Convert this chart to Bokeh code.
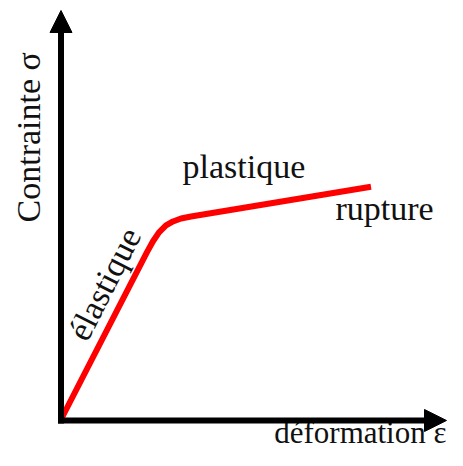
import math
from bokeh.plotting import figure
from bokeh.models import Range1d, Arrow, NormalHead
from bokeh.core.properties import value
from bokeh.embed import file_html
from bokeh.resources import INLINE

# Schematic stress-strain curve (arbitrary units)
strain = [0, 86, 92, 98, 105, 112, 120, 130, 310]
stress = [1, 170, 181, 190, 197, 201, 204, 206, 236]

label_y = "Contrainte σ"
label_x = "déformation ε"
zone_elastic = "élastique"
zone_plastic = "plastique"
zone_rupture = "rupture"

FONT = value("Liberation Serif")
INK = "#111111"

p = figure(width=447, height=450, output_backend="svg", toolbar_location=None,
           x_range=Range1d(-60.5, 386.5), y_range=Range1d(-30.3, 424.1),
           min_border=0, min_border_left=0, min_border_right=0,
           min_border_top=0, min_border_bottom=0)
p.axis.visible = False
p.grid.visible = False
p.outline_line_color = None
p.background_fill_color = "white"
p.border_fill_color = "white"

# axes with arrow heads
p.add_layout(Arrow(end=NormalHead(size=22, fill_color="black", line_color="black", line_width=1),
                   x_start=0, y_start=-3, x_end=0, y_end=414,
                   line_width=6, line_color="black"))
p.add_layout(Arrow(end=NormalHead(size=22, fill_color="black", line_color="black", line_width=1),
                   x_start=-3, y_start=0, x_end=385.5, y_end=0,
                   line_width=6, line_color="black"))

# curve
p.line(strain, stress, line_color="#ff0000", line_width=6, line_join="round")

# labels
slope_angle = math.atan2(stress[1] - stress[0], strain[1] - strain[0])
p.text(x=[-32.5], y=[286], text=[label_y], angle=math.pi / 2, text_align="center",
       text_baseline="alphabetic", text_font=FONT, text_font_size="34px", text_color=INK)
p.text(x=[385.5], y=[-12.1], text=[label_x], text_align="right",
       text_baseline="alphabetic", text_font=FONT, text_font_size="31px", text_color=INK)
p.text(x=[43.5], y=[138], text=[zone_elastic], angle=slope_angle, text_align="center",
       text_baseline="alphabetic", text_font=FONT, text_font_size="34px", text_color=INK)
p.text(x=[121.5], y=[256], text=[zone_plastic], text_align="left",
       text_baseline="alphabetic", text_font=FONT, text_font_size="34px", text_color=INK)
p.text(x=[274.5], y=[214], text=[zone_rupture], text_align="left",
       text_baseline="alphabetic", text_font=FONT, text_font_size="34px", text_color=INK)

open("out.html", "w").write(file_html(p, INLINE))
